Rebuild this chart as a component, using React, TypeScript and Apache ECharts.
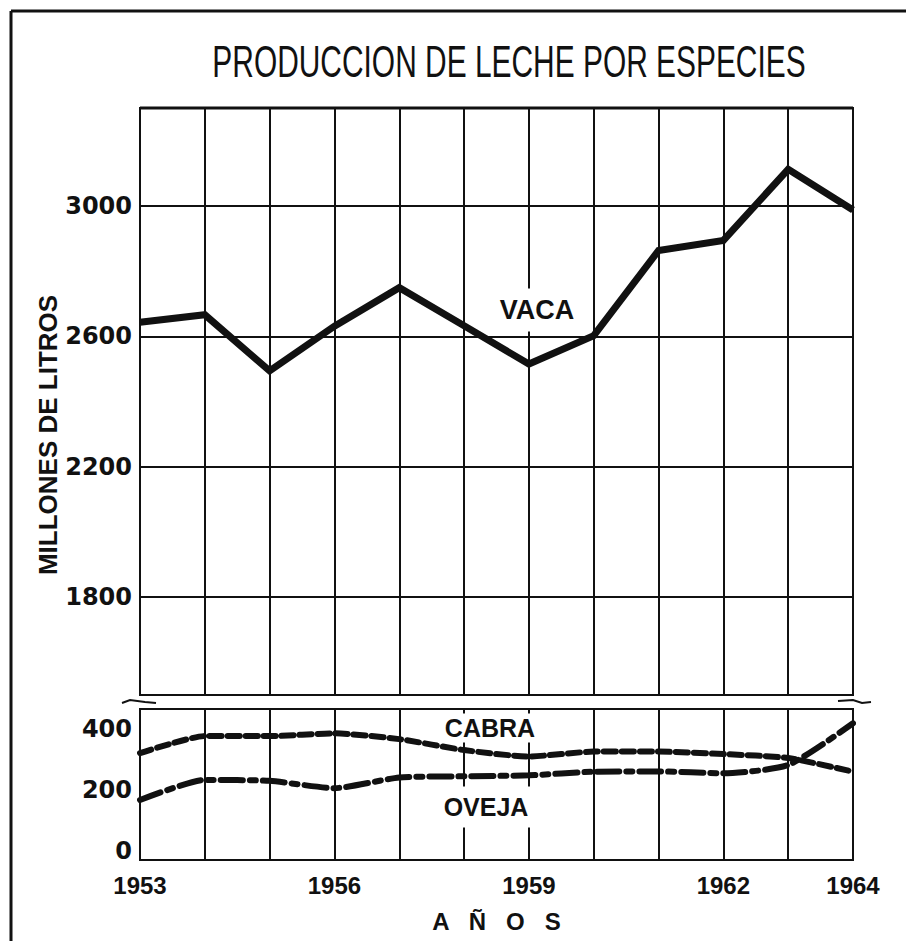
import React, { useEffect, useRef } from "react";
import * as echarts from "echarts";

const YEARS = [1953, 1954, 1955, 1956, 1957, 1958, 1959, 1960, 1961, 1962, 1963, 1964];
const VACA = [2643, 2666, 2494, 2631, 2749, 2632, 2515, 2602, 2863, 2894, 3112, 2987];
const CABRA = [321, 377, 377, 386, 367, 331, 310, 326, 326, 318, 305, 260];
const OVEJA = [167, 233, 230, 206, 241, 245, 248, 260, 261, 255, 282, 419];
const YEAR_LABELS = [1953, 1956, 1959, 1962, 1964];
const UPPER_TICKS = [1800, 2200, 2600, 3000];
const LOWER_TICKS = [0, 200, 400];

const TITLE = "PRODUCCION DE LECHE POR ESPECIES";
const Y_NAME = "MILLONES DE LITROS";
const X_NAME = "A   Ñ   O   S";

export default function App() {
  const ref = useRef<HTMLDivElement>(null);
  useEffect(() => {
    if (!ref.current) return;
    const chart = echarts.init(ref.current, null, { renderer: "svg" });
    const pairs = (arr: number[]) => YEARS.map((y, i) => [y, arr[i]]);
    const F = "'Liberation Sans', Arial, sans-serif";
    const FD = "'DejaVu Sans', sans-serif";
    const xBase = {
      type: "value" as const,
      min: 1953,
      max: 1964,
      interval: 1,
      axisTick: { show: false },
      splitLine: { show: true, lineStyle: { color: "#111", width: 2 } },
      axisLine: { show: false },
    };
    const yLabel = (ticks: number[]) => ({
      customValues: ticks,
      margin: 8,
      fontFamily: FD,
      fontWeight: "bold",
      fontSize: 24,
      color: "#111",
      formatter: (v: number) => String(v),
    });
    chart.setOption({
      animation: false,
      backgroundColor: "#fff",
      grid: [
        { left: 140, right: 53, top: 108, height: 587, show: true, borderColor: "#111", borderWidth: 2, backgroundColor: "transparent" },
        { left: 140, right: 53, top: 709, height: 151, show: true, borderColor: "#111", borderWidth: 2, backgroundColor: "transparent" },
      ],
      xAxis: [
        { ...xBase, gridIndex: 0, axisLabel: { show: false } },
        {
          ...xBase,
          gridIndex: 1,
          name: X_NAME,
          nameLocation: "middle",
          nameGap: 49,
          nameTextStyle: { fontFamily: F, fontWeight: "bold", fontSize: 24, color: "#111" },
          axisLabel: {
            margin: 13,
            fontFamily: F,
            fontWeight: "bold",
            fontSize: 24,
            color: "#111",
            formatter: (v: number) => (YEAR_LABELS.includes(v) ? String(v) : ""),
          },
        },
      ],
      yAxis: [
        {
          type: "value",
          gridIndex: 0,
          min: 1500,
          max: 3300,
          axisLine: { show: false },
          axisTick: { show: false, customValues: UPPER_TICKS },
          axisLabel: yLabel(UPPER_TICKS),
          splitLine: { show: true, lineStyle: { color: "#111", width: 2 } },
        },
        {
          type: "value",
          gridIndex: 1,
          min: -30,
          max: 466,
          axisLine: { show: false },
          axisTick: { show: false, customValues: LOWER_TICKS },
          axisLabel: yLabel(LOWER_TICKS),
          splitLine: { show: false },
        },
      ],
      series: [
        {
          name: "VACA",
          type: "line",
          xAxisIndex: 0,
          yAxisIndex: 0,
          data: pairs(VACA),
          symbol: "none",
          lineStyle: { color: "#111", width: 7, join: "miter" },
        },
        {
          name: "CABRA",
          type: "line",
          xAxisIndex: 1,
          yAxisIndex: 1,
          data: pairs(CABRA),
          symbol: "none",
          smooth: 0.2,
          lineStyle: { color: "#111", width: 6, type: [12, 6], cap: "round" },
        },
        {
          name: "OVEJA",
          type: "line",
          xAxisIndex: 1,
          yAxisIndex: 1,
          data: pairs(OVEJA),
          symbol: "none",
          smooth: 0.2,
          lineStyle: { color: "#111", width: 6, type: [22, 7, 6, 7], cap: "round" },
        },
      ],
      graphic: [
        { type: "line", z: 10, shape: { x1: 11, y1: 11, x2: 906, y2: 11 }, style: { stroke: "#111", lineWidth: 3 } },
        { type: "line", z: 10, shape: { x1: 11, y1: 11, x2: 11, y2: 941 }, style: { stroke: "#111", lineWidth: 3 } },
        { type: "line", z: 10, shape: { x1: 140, y1: 108, x2: 853, y2: 108 }, style: { stroke: "#111", lineWidth: 3 } },
        { type: "polyline", z: 10, shape: { points: [[122, 703], [130, 700], [145, 702], [156, 703]] }, style: { stroke: "#111", lineWidth: 2, fill: null } },
        { type: "polyline", z: 10, shape: { points: [[838, 701], [853, 700], [862, 703], [871, 702]] }, style: { stroke: "#111", lineWidth: 2, fill: null } },
        {
          type: "text",
          z: 10,
          x: 509,
          y: 62,
          scaleX: 0.68,
          style: { text: TITLE, fontFamily: F, fontSize: 44, fill: "#111", align: "center", verticalAlign: "middle" },
        },
        {
          type: "text",
          z: 10,
          x: 48,
          y: 435,
          rotation: Math.PI / 2,
          style: { text: Y_NAME, fontFamily: F, fontWeight: "bold", fontSize: 26, fill: "#111", align: "center", verticalAlign: "middle" },
        },
        {
          type: "text",
          z: 3,
          x: 537,
          y: 310,
          style: { text: "VACA", fontFamily: F, fontWeight: "bold", fontSize: 27, fill: "#111", align: "center", verticalAlign: "middle", backgroundColor: "#fff", padding: [8, 6] },
        },
        {
          type: "text",
          z: 3,
          x: 490,
          y: 728,
          style: { text: "CABRA", fontFamily: F, fontWeight: "bold", fontSize: 25, fill: "#111", align: "center", verticalAlign: "middle", backgroundColor: "#fff", padding: [2, 4] },
        },
        {
          type: "text",
          z: 3,
          x: 486,
          y: 807,
          style: { text: "OVEJA", fontFamily: F, fontWeight: "bold", fontSize: 25, fill: "#111", align: "center", verticalAlign: "middle", backgroundColor: "#fff", padding: [8, 4] },
        },
      ],
    });
    return () => chart.dispose();
  }, []);
  return <div ref={ref} style={{ position: "fixed", left: 0, top: 0, width: 906, height: 941 }} />;
}
